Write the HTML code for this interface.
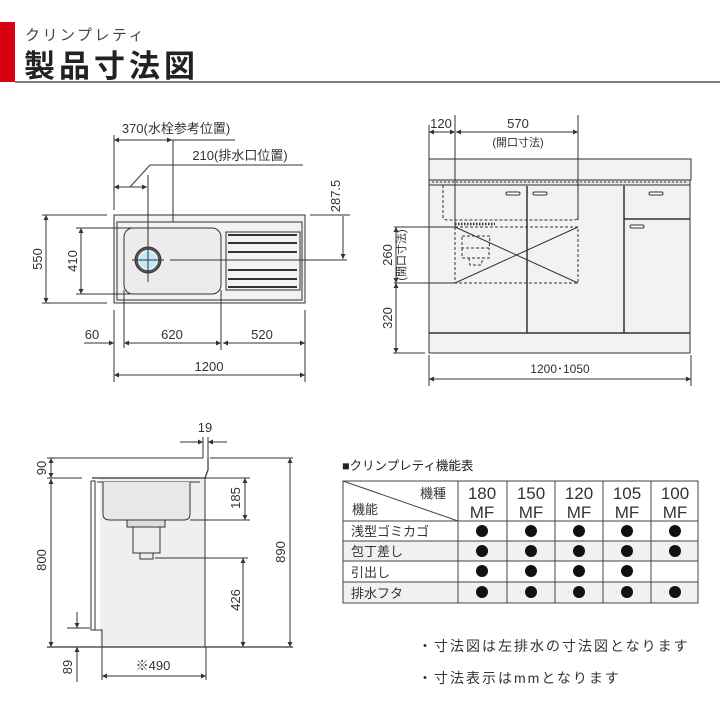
<!DOCTYPE html>
<html><head><meta charset="utf-8"><style>
html,body{margin:0;padding:0;background:#fff;}
svg{display:block;font-family:"Liberation Sans","Noto Sans CJK JP",sans-serif;}
</style></head><body>
<svg width="720" height="720" viewBox="0 0 720 720" xmlns="http://www.w3.org/2000/svg">
<defs>
<marker id="a" viewBox="0 0 10 10" refX="10" refY="5" markerWidth="7" markerHeight="5" orient="auto-start-reverse" markerUnits="userSpaceOnUse"><path d="M0,0L10,5L0,10z" fill="#333"/></marker>
</defs>
<rect x="0" y="22" width="15" height="60" fill="#d7000f"/>
<line x1="15" y1="82" x2="720" y2="82" stroke="#555" stroke-width="1.5"/>
<text x="25" y="40" font-size="15" fill="#444" letter-spacing="2.5">クリンプレティ</text>
<text x="24" y="77" font-size="31" font-weight="bold" fill="#222" letter-spacing="4">製品寸法図</text>

<g stroke="#333" stroke-width="1" fill="none">
<rect x="114" y="215" width="191" height="88" fill="#f2f2f2"/>
<rect x="117" y="222" width="185" height="78"/>
<rect x="124" y="228" width="97" height="66" rx="9" fill="#ececec"/>
<rect x="226" y="232" width="74" height="58"/>
<g stroke-width="2">
<line x1="228" y1="235" x2="297" y2="235"/><line x1="228" y1="243" x2="297" y2="243"/><line x1="228" y1="252" x2="297" y2="252"/>
<line x1="228" y1="270" x2="297" y2="270"/><line x1="228" y1="279" x2="297" y2="279"/><line x1="228" y1="287" x2="297" y2="287"/>
</g>
<circle cx="148" cy="260" r="13" fill="#555" stroke="#333"/>
<circle cx="148" cy="260" r="9.5" fill="#bfe9f7" stroke="#fff"/>
<line x1="132" y1="260" x2="164" y2="260"/>
<line x1="170" y1="260" x2="347" y2="260"/>
<line x1="114" y1="140" x2="172" y2="140" marker-start="url(#a)" marker-end="url(#a)"/>
<line x1="172" y1="140" x2="235" y2="140"/>
<line x1="173" y1="140" x2="173" y2="222"/>
<line x1="114" y1="135" x2="114" y2="210"/>
<line x1="114" y1="187" x2="147" y2="187" marker-start="url(#a)" marker-end="url(#a)"/>
<polyline points="130,187 150,165 303,165"/>
<line x1="148" y1="175" x2="148" y2="282"/>
<line x1="310" y1="215" x2="350" y2="215"/>
<line x1="343" y1="216" x2="343" y2="259" marker-end="url(#a)"/>
<line x1="42" y1="215" x2="107" y2="215"/><line x1="42" y1="303" x2="107" y2="303"/>
<line x1="46" y1="215" x2="46" y2="303" marker-start="url(#a)" marker-end="url(#a)"/>
<line x1="76" y1="228" x2="140" y2="228"/><line x1="76" y1="294" x2="130" y2="294"/>
<line x1="81" y1="228" x2="81" y2="294" marker-start="url(#a)" marker-end="url(#a)"/>
<line x1="114" y1="310" x2="114" y2="382"/><line x1="305" y1="310" x2="305" y2="382"/>
<line x1="124" y1="290" x2="124" y2="348"/><line x1="221" y1="290" x2="221" y2="350"/>
<line x1="84" y1="343" x2="114" y2="343" marker-end="url(#a)"/>
<line x1="124" y1="343" x2="221" y2="343" marker-start="url(#a)" marker-end="url(#a)"/>
<line x1="223" y1="343" x2="305" y2="343" marker-start="url(#a)" marker-end="url(#a)"/>
<line x1="114" y1="375" x2="305" y2="375" marker-start="url(#a)" marker-end="url(#a)"/>

<rect x="429" y="159" width="262" height="21" fill="#f2f2f2"/>
<rect x="429" y="180" width="261" height="5" fill="#e6e6e6"/>
<line x1="432" y1="182" x2="688" y2="182" stroke-dasharray="2,2"/>
<rect x="429" y="185" width="261" height="168" fill="#f2f2f2"/>
<line x1="429" y1="333" x2="690" y2="333" stroke-width="1.5"/>
<line x1="527" y1="186" x2="527" y2="333" stroke-width="1.5"/>
<line x1="624" y1="186" x2="624" y2="333" stroke-width="1.5"/>
<line x1="624" y1="219" x2="690" y2="219" stroke-width="1.5"/>
<g stroke-width="1" fill="#fff">
<rect x="506" y="192" width="14" height="3" rx="1.5"/><rect x="533" y="192" width="14" height="3" rx="1.5"/>
<rect x="649" y="192" width="14" height="3" rx="1.5"/><rect x="630" y="225" width="14" height="3" rx="1.5"/>
</g>
<g stroke-dasharray="3,2">
<path d="M443,185 V217 Q443,220 447,220 H574 Q578,220 578,216 V185"/>
<rect x="455" y="227" width="123" height="56"/>
<path d="M462,236 H490 L489,248 H462 Z"/>
<path d="M462,248 V258 H489 V248"/>
<path d="M469,258 L470,265 H481 L483,258"/>
</g>
<line x1="455" y1="224" x2="495" y2="224" stroke-width="2.5" stroke-dasharray="1.5,1.5"/>
<line x1="455" y1="227" x2="578" y2="283"/>
<line x1="578" y1="227" x2="455" y2="283"/>
<line x1="429" y1="125" x2="429" y2="160"/>
<line x1="455" y1="115" x2="455" y2="227"/>
<line x1="578" y1="115" x2="578" y2="220"/>
<line x1="429" y1="132" x2="455" y2="132" marker-start="url(#a)" marker-end="url(#a)"/>
<line x1="456" y1="132" x2="578" y2="132" marker-start="url(#a)" marker-end="url(#a)"/>
<line x1="394" y1="227" x2="455" y2="227"/><line x1="394" y1="283" x2="455" y2="283"/>
<line x1="393" y1="353" x2="425" y2="353"/>
<line x1="396" y1="227" x2="396" y2="283" marker-start="url(#a)" marker-end="url(#a)"/>
<line x1="396" y1="283" x2="396" y2="353" marker-start="url(#a)" marker-end="url(#a)"/>
<line x1="429" y1="355" x2="429" y2="386"/><line x1="691" y1="355" x2="691" y2="386"/>
<line x1="429" y1="379" x2="691" y2="379" marker-start="url(#a)" marker-end="url(#a)"/>

<rect x="100" y="478" width="105" height="169" fill="#efefef" stroke="none"/>
<line x1="205" y1="478" x2="205" y2="647"/>
<path d="M92,478 H205 L208,470 V458" stroke-width="1.2"/>
<path d="M97,482 H200"/>
<path d="M103,482 V514 Q103,520 110,520 H184 Q190,520 190,514 V482" fill="#e8e8e8"/>
<path d="M91,481 H95 V630 H102 V647 M91,481 V630 H95"/>
<rect x="127" y="520" width="38" height="7" fill="#ddd"/>
<rect x="133" y="527" width="27" height="26" fill="#eee"/>
<rect x="140" y="553" width="13" height="6" fill="#eee"/>
<line x1="47" y1="458" x2="203" y2="458"/><line x1="210" y1="458" x2="293" y2="458"/>
<line x1="47" y1="478" x2="82" y2="478"/>
<line x1="47" y1="647" x2="293" y2="647" stroke-width="1.2"/>
<line x1="51" y1="458" x2="51" y2="478" marker-start="url(#a)" marker-end="url(#a)"/>
<line x1="51" y1="479" x2="51" y2="647" marker-start="url(#a)" marker-end="url(#a)"/>
<line x1="205" y1="478" x2="250" y2="478"/>
<line x1="190" y1="520" x2="250" y2="520"/>
<line x1="245" y1="478" x2="245" y2="520" marker-start="url(#a)" marker-end="url(#a)"/>
<line x1="155" y1="558" x2="248" y2="558"/>
<line x1="243" y1="558" x2="243" y2="647" marker-start="url(#a)" marker-end="url(#a)"/>
<line x1="290" y1="458" x2="290" y2="647" marker-start="url(#a)" marker-end="url(#a)"/>
<line x1="203" y1="437" x2="203" y2="458"/><line x1="208" y1="437" x2="208" y2="458"/>
<line x1="180" y1="442" x2="203" y2="442" marker-end="url(#a)"/>
<line x1="227" y1="442" x2="208" y2="442" marker-end="url(#a)"/>
<line x1="67" y1="628" x2="90" y2="628"/>
<line x1="77" y1="612" x2="77" y2="628" marker-end="url(#a)"/>
<line x1="77" y1="682" x2="77" y2="647" marker-end="url(#a)"/>
<line x1="102" y1="647" x2="102" y2="680"/><line x1="206" y1="647" x2="206" y2="680"/>
<line x1="102" y1="676" x2="206" y2="676" marker-start="url(#a)" marker-end="url(#a)"/>
</g>

<g font-size="13" fill="#333" text-anchor="middle">
<text x="176" y="133">370(水栓参考位置)</text>
<text x="240" y="160">210(排水口位置)</text>
<text x="92" y="339">60</text>
<text x="172" y="339">620</text>
<text x="262" y="339">520</text>
<text x="209" y="371">1200</text>
<text transform="translate(340,196) rotate(-90)">287.5</text>
<text transform="translate(42,259) rotate(-90)">550</text>
<text transform="translate(77,261) rotate(-90)">410</text>
<text x="441" y="128">120</text>
<text x="518" y="128">570</text>
<text x="518" y="146" font-size="11">(開口寸法)</text>
<text transform="translate(392,255) rotate(-90)">260</text>
<text transform="translate(405,255) rotate(-90)" font-size="11">(開口寸法)</text>
<text transform="translate(392,318) rotate(-90)">320</text>
<text x="560" y="373" font-size="12">1200･1050</text>
<text x="205" y="432">19</text>
<text transform="translate(46,468) rotate(-90)">90</text>
<text transform="translate(46,560) rotate(-90)">800</text>
<text transform="translate(240,498) rotate(-90)">185</text>
<text transform="translate(240,600) rotate(-90)">426</text>
<text transform="translate(285,552) rotate(-90)">890</text>
<text transform="translate(72,667) rotate(-90)">89</text>
<text x="153" y="670">※490</text>
</g>

<text x="342" y="470" font-size="12.5" fill="#222">■クリンプレティ機能表</text>
<g stroke="#444" stroke-width="1" fill="none">
<rect x="343" y="541" width="355" height="20" fill="#f1f1f1" stroke="none"/>
<rect x="343" y="582" width="355" height="21" fill="#f1f1f1" stroke="none"/>
<rect x="343" y="481" width="355" height="122"/>
<line x1="343" y1="521" x2="698" y2="521"/><line x1="343" y1="541" x2="698" y2="541"/>
<line x1="343" y1="561" x2="698" y2="561"/><line x1="343" y1="582" x2="698" y2="582"/>
<line x1="458" y1="481" x2="458" y2="603"/><line x1="507" y1="481" x2="507" y2="603"/>
<line x1="555" y1="481" x2="555" y2="603"/><line x1="603" y1="481" x2="603" y2="603"/>
<line x1="651" y1="481" x2="651" y2="603"/>
<line x1="343" y1="481" x2="458" y2="521"/>
</g>
<g font-size="13" fill="#333">
<text x="420" y="498">機種</text>
<text x="352" y="514">機能</text>
<text x="351" y="536">浅型ゴミカゴ</text>
<text x="351" y="556">包丁差し</text>
<text x="351" y="577">引出し</text>
<text x="351" y="598">排水フタ</text>
</g>
<g font-size="17" fill="#333" text-anchor="middle">
<text x="482" y="499">180</text><text x="482" y="518">MF</text>
<text x="531" y="499">150</text><text x="531" y="518">MF</text>
<text x="579" y="499">120</text><text x="579" y="518">MF</text>
<text x="627" y="499">105</text><text x="627" y="518">MF</text>
<text x="675" y="499">100</text><text x="675" y="518">MF</text>
</g>
<g fill="#111">
<circle cx="482" cy="531" r="6"/><circle cx="531" cy="531" r="6"/><circle cx="579" cy="531" r="6"/><circle cx="627" cy="531" r="6"/><circle cx="675" cy="531" r="6"/>
<circle cx="482" cy="551" r="6"/><circle cx="531" cy="551" r="6"/><circle cx="579" cy="551" r="6"/><circle cx="627" cy="551" r="6"/><circle cx="675" cy="551" r="6"/>
<circle cx="482" cy="571" r="6"/><circle cx="531" cy="571" r="6"/><circle cx="579" cy="571" r="6"/><circle cx="627" cy="571" r="6"/>
<circle cx="482" cy="592" r="6"/><circle cx="531" cy="592" r="6"/><circle cx="579" cy="592" r="6"/><circle cx="627" cy="592" r="6"/><circle cx="675" cy="592" r="6"/>
</g>
<g font-size="14" fill="#333" letter-spacing="2">
<text x="418" y="651">・寸法図は左排水の寸法図となります</text>
<text x="418" y="683">・寸法表示はmmとなります</text>
</g>
</svg>
</body></html>
